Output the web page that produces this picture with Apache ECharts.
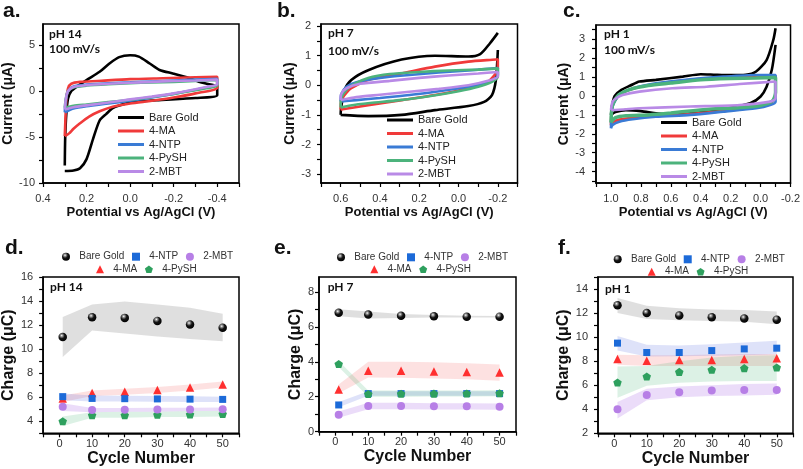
<!DOCTYPE html>
<html><head><meta charset="utf-8">
<script src="https://cdn.jsdelivr.net/npm/echarts@6/dist/echarts.min.js"></script>
<style>html,body{margin:0;padding:0;background:#fff}#c{width:803px;height:469px}</style>
</head><body><div id="c"></div>
<script>
// ================= DATA =================
const seriesNames = ['Bare Gold', '4-MA', '4-NTP', '4-PySH', '2-MBT'];

// --- CV curves, [potential V, current uA] ---
// panel a (pH 14)
const cvA_BareGold = [[0.3,-8.1],[0.298,-5],[0.293,-2.5],[0.285,-0.8],[0.27,0.0],[0.25,0.4],[0.2,1.2],[0.14,2.1],[0.095,3.0],[0.05,3.7],[0.0,3.9],[-0.04,3.75],[-0.09,3.0],[-0.135,2.3],[-0.2,1.9],[-0.26,1.5],[-0.32,1.0],[-0.38,0.65],[-0.4,0.55],[-0.4,-0.45],[-0.3,-0.75],[-0.12,-1.0],[-0.01,-1.2],[0.05,-1.56],[0.08,-1.85],[0.11,-2.5],[0.14,-3.2],[0.17,-5.2],[0.2,-7.4],[0.23,-8.4],[0.26,-8.65],[0.3,-8.7]];
const cvA_MA = [[0.3,-4.9],[0.297,-3],[0.293,-1],[0.285,0.3],[0.27,0.8],[0.23,1.0],[0.15,1.1],[0.0,1.3],[-0.15,1.4],[-0.3,1.5],[-0.4,1.55],[-0.4,0.4],[-0.3,-0.25],[-0.2,-0.7],[-0.1,-1.05],[0.0,-1.35],[0.08,-1.7],[0.14,-2.2],[0.19,-2.8],[0.23,-3.5],[0.26,-4.1],[0.28,-4.6],[0.3,-4.9]];
const cvA_NTP = [[0.3,-2.3],[0.295,-1.0],[0.285,0.0],[0.26,0.5],[0.2,0.7],[0.1,0.85],[0.0,0.95],[-0.1,1.05],[-0.2,1.15],[-0.3,1.25],[-0.4,1.35],[-0.4,0.7],[-0.35,0.4],[-0.3,0.15],[-0.2,-0.3],[-0.1,-0.7],[0.0,-1.05],[0.1,-1.35],[0.2,-1.65],[0.26,-1.9],[0.3,-2.3]];
const cvA_PySH = [[0.3,-1.8],[0.295,-0.8],[0.285,0.0],[0.26,0.4],[0.2,0.6],[0.1,0.75],[0.0,0.85],[-0.1,0.95],[-0.2,1.0],[-0.3,1.1],[-0.4,1.2],[-0.4,0.6],[-0.35,0.3],[-0.3,0.1],[-0.2,-0.3],[-0.1,-0.65],[0.0,-0.95],[0.1,-1.2],[0.2,-1.45],[0.26,-1.6],[0.3,-1.8]];
const cvA_MBT = [[0.3,-2.0],[0.295,-0.8],[0.285,0.0],[0.26,0.45],[0.2,0.65],[0.1,0.8],[0.0,0.9],[-0.1,1.0],[-0.2,1.1],[-0.3,1.15],[-0.4,1.25],[-0.4,0.75],[-0.35,0.45],[-0.3,0.2],[-0.2,-0.25],[-0.1,-0.6],[0.0,-0.9],[0.1,-1.25],[0.2,-1.55],[0.26,-1.75],[0.3,-2.0]];

// panel b (pH 7)
const cvB_BareGold = [[0.6,-1.0],[0.598,-0.78],[0.58,-0.16],[0.546,0.18],[0.46,0.51],[0.29,0.87],[0.12,1.0],[-0.05,0.97],[-0.11,1.05],[-0.16,1.42],[-0.2,1.77],[-0.2,'-'],[-0.2,1.19],[-0.19,0.18],[-0.17,-0.33],[-0.13,-0.56],[-0.05,-0.7],[0.12,-0.84],[0.29,-1.0],[0.46,-1.04],[0.6,-1.0]];
const cvB_MA = [[0.6,-0.82],[0.597,-0.5],[0.57,-0.25],[0.546,-0.1],[0.46,0.18],[0.29,0.4],[0.12,0.63],[-0.05,0.8],[-0.19,0.87],[-0.2,0.88],[-0.2,0.57],[-0.15,0.12],[-0.05,-0.1],[0.12,-0.33],[0.29,-0.5],[0.46,-0.67],[0.59,-0.81],[0.6,-0.82]];
const cvB_NTP = [[0.6,-0.55],[0.597,-0.3],[0.57,-0.05],[0.52,0.1],[0.4,0.25],[0.25,0.35],[0.1,0.43],[-0.05,0.5],[-0.2,0.58],[-0.2,0.35],[-0.15,0.1],[-0.05,-0.05],[0.1,-0.2],[0.25,-0.33],[0.4,-0.43],[0.52,-0.5],[0.6,-0.55]];
const cvB_PySH = [[0.6,-0.75],[0.597,-0.45],[0.57,-0.15],[0.53,0.05],[0.46,0.25],[0.35,0.38],[0.2,0.45],[0.05,0.5],[-0.1,0.53],[-0.2,0.57],[-0.2,0.3],[-0.17,0.12],[-0.1,-0.05],[0.0,-0.2],[0.15,-0.37],[0.3,-0.5],[0.45,-0.6],[0.55,-0.68],[0.6,-0.75]];
const cvB_MBT = [[0.6,-0.5],[0.597,-0.3],[0.57,-0.1],[0.5,0.05],[0.35,0.15],[0.2,0.25],[0.05,0.33],[-0.1,0.4],[-0.2,0.45],[-0.2,0.3],[-0.15,0.15],[-0.05,0.0],[0.1,-0.12],[0.25,-0.22],[0.4,-0.32],[0.52,-0.4],[0.6,-0.5]];

// panel c (pH 1)
const cvC_BareGold = [[1.0,-1.0],[0.99,-0.4],[0.975,0.0],[0.93,0.32],[0.87,0.55],[0.81,0.76],[0.7,0.85],[0.52,1.02],[0.4,1.15],[0.3,1.12],[0.2,1.1],[0.1,1.12],[0.03,1.29],[-0.04,1.9],[-0.085,2.96],[-0.1,3.58],[-0.1,'-'],[-0.1,2.7],[-0.075,1.38],[-0.04,0.49],[0.0,-0.03],[0.07,-0.39],[0.25,-0.7],[0.45,-0.9],[0.65,-0.95],[0.8,-0.8],[0.9,-0.75],[0.97,-0.85],[1.0,-1.0]];
const cvC_MA = [[1.0,-1.55],[0.99,-0.5],[0.944,0.05],[0.855,0.38],[0.7,0.63],[0.47,0.85],[0.25,0.98],[0.03,1.05],[-0.1,1.05],[-0.1,0.0],[-0.064,-0.42],[0.03,-0.6],[0.25,-0.8],[0.47,-0.95],[0.7,-1.05],[0.855,-1.15],[0.944,-1.25],[0.989,-1.4],[1.0,-1.55]];
const cvC_NTP = [[1.0,-1.71],[0.989,-0.56],[0.944,0.05],[0.855,0.4],[0.7,0.67],[0.47,0.88],[0.25,1.02],[0.03,1.11],[-0.1,1.11],[-0.1,-0.3],[-0.064,-0.48],[0.03,-0.65],[0.25,-0.83],[0.47,-1.0],[0.7,-1.1],[0.855,-1.23],[0.944,-1.36],[0.989,-1.53],[1.0,-1.71]];
const cvC_PySH = [[1.0,-1.4],[0.99,-0.5],[0.95,0.05],[0.87,0.35],[0.75,0.55],[0.6,0.68],[0.4,0.85],[0.2,0.92],[0.03,0.95],[-0.1,0.98],[-0.1,0.2],[-0.08,-0.25],[0.0,-0.5],[0.15,-0.62],[0.3,-0.68],[0.45,-0.78],[0.6,-0.9],[0.75,-1.0],[0.9,-1.05],[0.97,-1.15],[1.0,-1.4]];
const cvC_MBT = [[1.0,-0.74],[0.989,-0.3],[0.966,-0.12],[0.922,0.05],[0.81,0.23],[0.59,0.41],[0.36,0.49],[0.14,0.63],[-0.1,0.76],[-0.1,-0.12],[-0.064,-0.3],[0.14,-0.48],[0.47,-0.56],[0.81,-0.65],[0.99,-0.74],[1.0,-0.74]];

// --- Charge vs cycle ---
const cycles = [1, 10, 20, 30, 40, 50];
// panel d (pH 14)
const qD_Bare = [11.0, 12.65, 12.6, 12.35, 12.05, 11.78];
const qD_Bare_lo = [9.35, 11.55, 11.3, 11.05, 10.85, 10.65];
const qD_Bare_hi = [12.67, 13.72, 13.97, 13.72, 13.45, 12.95];
const qD_MA = [5.9, 6.35, 6.45, 6.6, 6.8, 7.05];
const qD_MA_lo = [5.6, 6.1, 6.2, 6.35, 6.55, 6.8];
const qD_MA_hi = [6.15, 6.55, 6.7, 6.85, 7.05, 7.3];
const qD_NTP = [6.05, 5.9, 5.88, 5.86, 5.84, 5.82];
const qD_NTP_lo = [5.75, 5.65, 5.65, 5.62, 5.6, 5.6];
const qD_NTP_hi = [6.3, 6.15, 6.12, 6.1, 6.08, 6.05];
const qD_PySH = [4.0, 4.5, 4.5, 4.55, 4.57, 4.6];
const qD_PySH_lo = [3.6, 4.3, 4.3, 4.35, 4.35, 4.4];
const qD_PySH_hi = [4.4, 4.75, 4.8, 4.8, 4.85, 4.85];
const qD_MBT = [5.2, 4.93, 4.95, 4.97, 4.98, 5.0];
const qD_MBT_lo = [4.85, 4.75, 4.8, 4.8, 4.85, 4.85];
const qD_MBT_hi = [5.5, 5.1, 5.1, 5.12, 5.12, 5.15];
// panel e (pH 7)
const qE_Bare = [6.8, 6.7, 6.63, 6.6, 6.58, 6.58];
const qE_Bare_lo = [6.6, 6.48, 6.5, 6.53, 6.53, 6.53];
const qE_Bare_hi = [7.0, 6.87, 6.74, 6.68, 6.64, 6.62];
const qE_MA = [2.42, 3.48, 3.48, 3.45, 3.42, 3.38];
const qE_MA_lo = [2.2, 3.1, 3.08, 3.05, 3.0, 2.92];
const qE_MA_hi = [2.7, 4.0, 4.0, 3.98, 3.92, 3.85];
const qE_NTP = [1.53, 2.18, 2.18, 2.18, 2.18, 2.18];
const qE_NTP_lo = [1.4, 2.05, 2.05, 2.05, 2.05, 2.05];
const qE_NTP_hi = [1.7, 2.32, 2.32, 2.32, 2.32, 2.32];
const qE_PySH = [3.87, 2.16, 2.17, 2.18, 2.19, 2.2];
const qE_PySH_lo = [3.7, 2.0, 2.0, 2.02, 2.02, 2.03];
const qE_PySH_hi = [4.05, 2.35, 2.35, 2.35, 2.36, 2.37];
const qE_MBT = [0.97, 1.47, 1.47, 1.45, 1.45, 1.43];
const qE_MBT_lo = [0.8, 1.28, 1.28, 1.27, 1.27, 1.25];
const qE_MBT_hi = [1.15, 1.65, 1.65, 1.63, 1.63, 1.62];
// panel f (pH 1)
const qF_Bare = [12.65, 12.0, 11.8, 11.65, 11.55, 11.45];
const qF_Bare_lo = [12.0, 11.5, 11.4, 11.33, 11.28, 11.08];
const qF_Bare_hi = [13.25, 12.6, 12.4, 12.3, 12.25, 12.14];
const qF_MA = [8.17, 8.03, 8.1, 8.1, 8.19, 8.25];
const qF_MA_lo = [7.7, 7.6, 7.6, 7.6, 7.6, 7.6];
const qF_MA_hi = [8.53, 8.5, 8.5, 8.55, 8.6, 8.6];
const qF_NTP = [9.5, 8.72, 8.72, 8.88, 9.02, 9.08];
const qF_NTP_lo = [8.88, 8.39, 8.4, 8.45, 8.5, 8.58];
const qF_NTP_hi = [10.1, 9.36, 9.3, 9.4, 9.55, 9.7];
const qF_PySH = [6.22, 6.72, 7.11, 7.28, 7.42, 7.47];
const qF_PySH_lo = [4.95, 5.95, 6.2, 6.3, 6.35, 6.35];
const qF_PySH_hi = [7.55, 7.6, 8.0, 8.3, 8.45, 8.5];
const qF_MBT = [4.0, 5.19, 5.42, 5.55, 5.61, 5.61];
const qF_MBT_lo = [3.23, 4.75, 5.0, 5.1, 5.15, 5.2];
const qF_MBT_hi = [4.6, 5.7, 5.9, 6.0, 6.1, 6.15];

// --- tick labels ---
const xLabelsA = [0.4, 0.2, 0.0, -0.2, -0.4];
const xLabelsB = [0.6, 0.4, 0.2, 0.0, -0.2];
const xLabelsC = [1.0, 0.8, 0.6, 0.4, 0.2, 0.0, -0.2];
const yLabelsA = [-10, -5, 0, 5];
const yLabelsB = [-3, -2, -1, 0, 1, 2];
const yLabelsC = [-4, -3, -2, -1, 0, 1, 2, 3];
const xLabelsCycle = [0, 10, 20, 30, 40, 50];
const yLabelsD = [4, 6, 8, 10, 12, 14, 16];
const yLabelsE = [0, 2, 4, 6, 8];
const yLabelsF = [2, 4, 6, 8, 10, 12, 14];

// ================= STYLE =================
const FONT = '"Liberation Sans", Arial, sans-serif';
const lineColors = {'Bare Gold':'#000000','4-MA':'#f03a3a','4-NTP':'#3a7bd5','4-PySH':'#4cb37c','2-MBT':'#b98ae6'};
const bandColors = {'Bare Gold':'rgba(140,140,140,0.28)','4-MA':'rgba(245,90,90,0.18)','4-NTP':'rgba(90,110,225,0.2)','4-PySH':'rgba(60,175,110,0.18)','2-MBT':'rgba(175,115,230,0.25)'};
const sphere = {type:'radial', x:0.38, y:0.32, r:0.7, colorStops:[{offset:0,color:'#ffffff'},{offset:0.18,color:'#9a9a9a'},{offset:0.5,color:'#151515'},{offset:1,color:'#000000'}]};
const markStyle = {
  'Bare Gold': {symbol:'circle', size:8.5, color:sphere},
  '4-MA': {symbol:'triangle', size:8.5, color:'#ff2f2f'},
  '4-NTP': {symbol:'rect', size:7, color:'#1c6ad8'},
  '4-PySH': {symbol:'path://M50,0 L97.6,34.5 L79.4,90.5 L20.6,90.5 L2.4,34.5 Z', size:8.5, color:'#2ea05e'},
  '2-MBT': {symbol:'circle', size:8, color:'#b77fe6'}
};

function range(a, b, s) { const r = []; for (let v = a; v <= b + 1e-9; v += s) r.push(Math.round(v * 1000) / 1000); return r; }

function mkAxis(o) {
  return {
    type:'value', gridIndex:o.g, min:o.min, max:o.max, inverse:!!o.inverse,
    name:o.name, nameLocation:'middle', nameGap:o.nameGap,
    nameTextStyle:{fontFamily:FONT, fontWeight:'bold', fontSize:o.nameSize, color:'#111'},
    axisLine:{show:true, onZero:false, lineStyle:{color:'#000', width:1.5}},
    axisTick:{show:true, customValues:o.ticks, length:4, lineStyle:{color:'#000', width:1.2}},
    axisLabel:{show:true, customValues:o.labels, formatter:o.fmt, fontFamily:FONT, fontSize:11, color:'#333', margin:o.margin},
    splitLine:{show:false}
  };
}
const f1 = v => (Math.abs(v) < 1e-9 ? 0 : v).toFixed(1);
const fi = v => String(Math.round(v));

const grids = [
  {left:43, top:24, width:196, height:159},
  {left:321, top:24, width:196.5, height:159},
  {left:596, top:25, width:195.5, height:158},
  {left:43, top:277, width:196, height:156.3},
  {left:319, top:277, width:197, height:154.7},
  {left:598, top:277, width:195, height:156.3}
].map(g => Object.assign(g, {show:true, borderColor:'#000', borderWidth:1.5, backgroundColor:'transparent'}));

const xAxes = [
  mkAxis({g:0, min:-0.5, max:0.4, inverse:true, labels:xLabelsA, ticks:range(-0.5,0.4,0.1), fmt:f1, name:'Potential vs Ag/AgCl (V)', nameGap:23, nameSize:13, margin:10}),
  mkAxis({g:1, min:-0.3, max:0.7, inverse:true, labels:xLabelsB, ticks:range(-0.3,0.7,0.1), fmt:f1, name:'Potential vs Ag/AgCl (V)', nameGap:23, nameSize:13, margin:10}),
  mkAxis({g:2, min:-0.2, max:1.1, inverse:true, labels:xLabelsC, ticks:range(-0.2,1.1,0.1), fmt:f1, name:'Potential vs Ag/AgCl (V)', nameGap:23, nameSize:13, margin:10}),
  mkAxis({g:3, min:-5, max:55, labels:xLabelsCycle, ticks:range(-5,55,5), fmt:fi, name:'Cycle Number', nameGap:17, nameSize:16, margin:5}),
  mkAxis({g:4, min:-5, max:55, labels:xLabelsCycle, ticks:range(-5,55,5), fmt:fi, name:'Cycle Number', nameGap:17, nameSize:16, margin:5}),
  mkAxis({g:5, min:-5, max:55, labels:xLabelsCycle, ticks:range(-5,55,5), fmt:fi, name:'Cycle Number', nameGap:17, nameSize:16, margin:5})
];
const yAxes = [
  mkAxis({g:0, min:-10, max:7.3, labels:yLabelsA, ticks:range(-10,5,2.5), fmt:fi, name:'Current (\u03bcA)', nameGap:23, nameSize:14, margin:8}),
  mkAxis({g:1, min:-3.3, max:2.07, labels:yLabelsB, ticks:range(-3,2,0.5), fmt:fi, name:'Current (\u03bcA)', nameGap:21, nameSize:14, margin:10}),
  mkAxis({g:2, min:-4.6, max:3.75, labels:yLabelsC, ticks:range(-4.5,3.5,0.5), fmt:fi, name:'Current (\u03bcA)', nameGap:21, nameSize:14, margin:11}),
  mkAxis({g:3, min:3, max:16, labels:yLabelsD, ticks:range(3,16,1), fmt:fi, name:'Charge (\u03bcC)', nameGap:22, nameSize:16, margin:10}),
  mkAxis({g:4, min:0, max:8.85, labels:yLabelsE, ticks:range(0,8,1), fmt:fi, name:'Charge (\u03bcC)', nameGap:15, nameSize:16, margin:5}),
  mkAxis({g:5, min:2, max:15, labels:yLabelsF, ticks:range(2,15,1), fmt:fi, name:'Charge (\u03bcC)', nameGap:24, nameSize:16, margin:10})
];

const series = [];
const cvPanels = [
  [cvA_BareGold, cvA_MA, cvA_NTP, cvA_PySH, cvA_MBT],
  [cvB_BareGold, cvB_MA, cvB_NTP, cvB_PySH, cvB_MBT],
  [cvC_BareGold, cvC_MA, cvC_NTP, cvC_PySH, cvC_MBT]
];
cvPanels.forEach((set, p) => {
  set.forEach((data, k) => {
    const n = seriesNames[k];
    series.push({type:'line', name:n, xAxisIndex:p, yAxisIndex:p, data:data, symbol:'none', showSymbol:false,
      smooth:0.25, connectNulls:false, z:2 + k,
      lineStyle:{width:(p === 2 && k === 3) ? 3.5 : 2.6, color:lineColors[n]}, itemStyle:{color:lineColors[n]}});
  });
});

const qPanels = [
  {Bare:[qD_Bare,qD_Bare_lo,qD_Bare_hi], MA:[qD_MA,qD_MA_lo,qD_MA_hi], NTP:[qD_NTP,qD_NTP_lo,qD_NTP_hi], PySH:[qD_PySH,qD_PySH_lo,qD_PySH_hi], MBT:[qD_MBT,qD_MBT_lo,qD_MBT_hi]},
  {Bare:[qE_Bare,qE_Bare_lo,qE_Bare_hi], MA:[qE_MA,qE_MA_lo,qE_MA_hi], NTP:[qE_NTP,qE_NTP_lo,qE_NTP_hi], PySH:[qE_PySH,qE_PySH_lo,qE_PySH_hi], MBT:[qE_MBT,qE_MBT_lo,qE_MBT_hi]},
  {Bare:[qF_Bare,qF_Bare_lo,qF_Bare_hi], MA:[qF_MA,qF_MA_lo,qF_MA_hi], NTP:[qF_NTP,qF_NTP_lo,qF_NTP_hi], PySH:[qF_PySH,qF_PySH_lo,qF_PySH_hi], MBT:[qF_MBT,qF_MBT_lo,qF_MBT_hi]}
];
const keyOf = {'Bare Gold':'Bare','4-MA':'MA','4-NTP':'NTP','4-PySH':'PySH','2-MBT':'MBT'};

function bandSeries(ax, lo, hi, color) {
  return {type:'custom', name:'band', xAxisIndex:ax, yAxisIndex:ax, silent:true, z:1,
    data: cycles.map((c, i) => [c, lo[i], hi[i]]), encode:{x:0, y:[1,2]},
    renderItem: function (params, api) {
      if (params.dataIndex !== 0) return null;
      const pts = [];
      for (let i = 0; i < cycles.length; i++) pts.push(api.coord([cycles[i], hi[i]]));
      for (let i = cycles.length - 1; i >= 0; i--) pts.push(api.coord([cycles[i], lo[i]]));
      return {type:'polygon', shape:{points:pts}, style:{fill:color}};
    }};
}
qPanels.forEach((pd, j) => {
  const ax = 3 + j;
  seriesNames.forEach(n => {
    const d = pd[keyOf[n]];
    series.push(bandSeries(ax, d[1], d[2], bandColors[n]));
  });
  seriesNames.forEach((n, k) => {
    const d = pd[keyOf[n]];
    const m = markStyle[n];
    series.push({type:'scatter', name:n + ' ', xAxisIndex:ax, yAxisIndex:ax, z:5 + k,
      data: cycles.map((c, i) => [c, d[0][i]]), symbol:m.symbol, symbolSize:m.size, symbolKeepAspect:true,
      itemStyle:{color:m.color, opacity:1}});
  });
});

function topLegend(left, top) {
  return {data:seriesNames, orient:'vertical', left:left, top:top, icon:'rect', itemWidth:26, itemHeight:3,
    itemGap:1.5, padding:0, selectedMode:false,
    textStyle:{fontFamily:FONT, fontSize:11, color:'#222', lineHeight:12}};
}
function botLegend(names, left, top) {
  return {data:names.map(n => n + ' '), orient:'horizontal', left:left, top:top, itemWidth:8, itemHeight:8,
    itemGap:7.7, padding:0, selectedMode:false, formatter: s => s.trim(),
    textStyle:{fontFamily:FONT, fontSize:10, color:'#333', lineHeight:12, padding:[0,0,0,4.3]}};
}
const row1 = ['Bare Gold', '4-NTP', '2-MBT'];
const row2 = ['4-MA', '4-PySH'];
const legends = [
  topLegend(118, 111.5), topLegend(387, 114), topLegend(661, 116.5),
  botLegend(row1, 62, 250.7), botLegend(row2, 96, 263.3),
  botLegend(row1, 337, 251.3), botLegend(row2, 370.3, 263.3),
  botLegend(row1, 613.7, 253.3), botLegend(row2, 647.7, 265.7)
];

function txt(t, x, y, font) {
  return {type:'text', x:x, y:y, style:{text:t, font:font, fill:'#111', verticalAlign:'middle', align:'left'}};
}
const LET = 'bold 21px "Liberation Sans", Arial, sans-serif';
const PH = 'bold 12px Lato, "Open Sans", sans-serif';
const graphics = [
  txt('a.', 3, 11, LET), txt('b.', 277, 11, LET), txt('c.', 563, 11, LET),
  txt('d.', 5, 248, LET), txt('e.', 274, 248, LET), txt('f.', 558, 248, LET),
  txt('pH 14', 49, 34.3, PH), txt('100 mV/s', 49, 49.3, PH),
  txt('pH 7', 328, 33.3, PH), txt('100 mV/s', 328, 50.7, PH),
  txt('pH 1', 604, 34.3, PH), txt('100 mV/s', 604, 50, PH),
  txt('pH 14', 50, 286.7, PH), txt('pH 7', 327.7, 287.3, PH), txt('pH 1', 605, 289, PH)
];

const chart = echarts.init(document.getElementById('c'), null, {renderer:'canvas'});
chart.setOption({
  animation:false, backgroundColor:'#ffffff',
  textStyle:{fontFamily:FONT},
  grid:grids, xAxis:xAxes, yAxis:yAxes, legend:legends, series:series, graphic:graphics
});
</script></body></html>
